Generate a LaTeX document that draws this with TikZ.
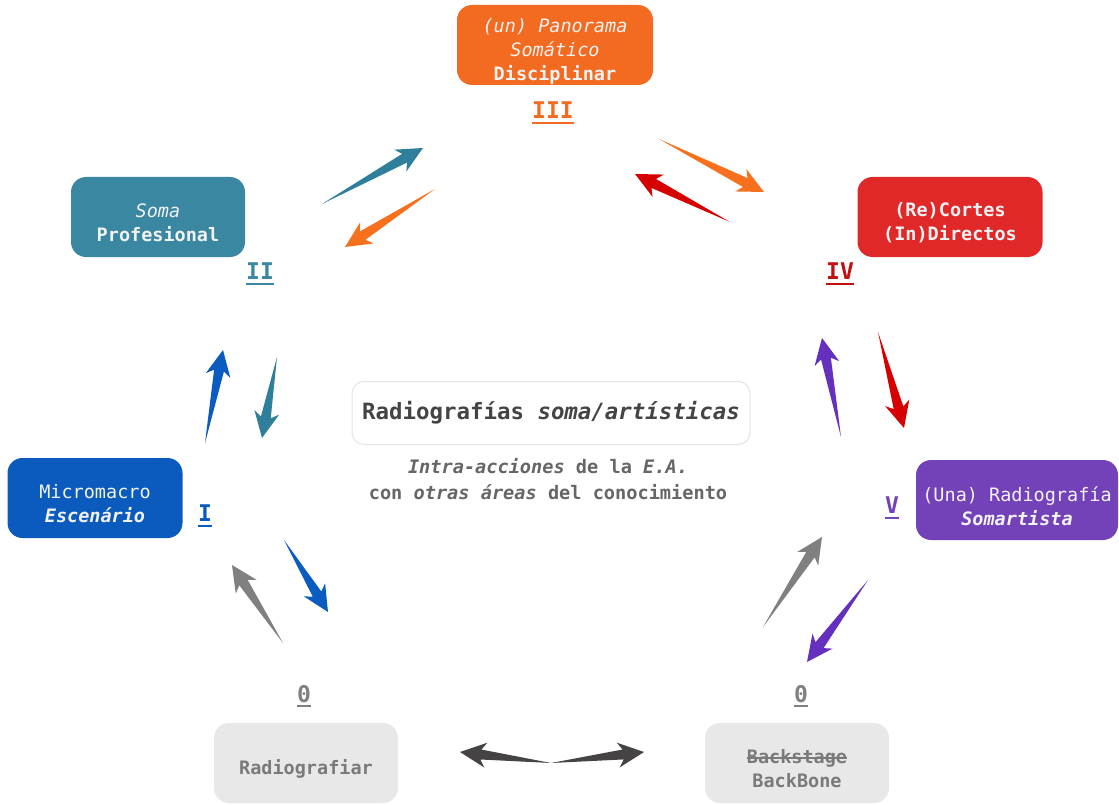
\documentclass[tikz,border=0pt]{standalone}
\usepackage{fontspec}
\setmonofont{DejaVu Sans Mono}
\usetikzlibrary{calc}
\definecolor{cOrange}{HTML}{F26B21}
\definecolor{cOrangeA}{HTML}{F6701D}
\definecolor{cTeal}{HTML}{3A87A1}
\definecolor{cTealA}{HTML}{2F7F9B}
\definecolor{cRed}{HTML}{E02828}
\definecolor{cRedA}{HTML}{D60000}
\definecolor{cRedL}{HTML}{C01010}
\definecolor{cBlue}{HTML}{0B5BBE}
\definecolor{cBlueA}{HTML}{0A5CC0}
\definecolor{cPurple}{HTML}{7442B8}
\definecolor{cPurpleA}{HTML}{6530BE}
\definecolor{cGrayBox}{HTML}{E8E8E8}
\definecolor{cGrayTxt}{HTML}{7A7A7A}
\definecolor{cGrayA}{HTML}{808080}
\definecolor{cDark}{HTML}{454343}
\definecolor{cTitle}{HTML}{444444}
\definecolor{cSub}{HTML}{666666}
\definecolor{cBoxTxt}{HTML}{F2F2F2}
\definecolor{cBorder}{HTML}{E4E4E4}
\newsavebox\mytxtbox
\newcommand\myul[1]{\sbox\mytxtbox{#1}\rlap{\usebox\mytxtbox}\rule[-5pt]{\wd\mytxtbox}{2pt}}
\newcommand\mystrike[1]{\sbox\mytxtbox{#1}\rlap{\usebox\mytxtbox}\rule[0.28em]{\wd\mytxtbox}{1.6pt}}
\newcommand\wedgearrow[3]{%
  \coordinate (wA) at (#2);
  \coordinate (wB) at (#3);
  \coordinate (wC) at ($(wB)!21pt!(wA)$);
  \coordinate (wD) at ($(wB)!26pt!(wA)$);
  \fill[#1] (wA) -- ($(wC)!5pt!90:(wB)$) -- ($(wD)!12.5pt!90:(wB)$) -- (wB)
    -- ($(wD)!12.5pt!-90:(wB)$) -- ($(wC)!5pt!-90:(wB)$) -- cycle;
}
\begin{document}
\begin{tikzpicture}[x=1pt,y=-1pt,
  box/.style={rounded corners=15pt, inner sep=0pt, minimum height=80pt},
  boxtext/.style={inner sep=0pt, align=center, text=cBoxTxt,
    font=\ttfamily\fontsize{18.5}{24}\selectfont},
  graybox/.style={box, fill=cGrayBox, minimum width=184pt},
  graytext/.style={boxtext, text=cGrayTxt},
  roman/.style={font=\ttfamily\bfseries\fontsize{23}{28}\selectfont, inner sep=0pt}
]
\useasboundingbox (0,0) rectangle (1119,805);
\fill[white] (0,0) rectangle (1119,805);

% boxes
\node[box, fill=cOrange, minimum width=196pt] (b3) at (555,45) {};
\node[boxtext] (t3) at (555,51)
  {\textit{(un) Panorama}\\\textit{Somático}\\\textbf{Disciplinar}};
\node[box, fill=cTeal, minimum width=174pt] (b2) at (158,217) {};
\node[boxtext] (t2) at (158,223) {\textit{Soma}\\\textbf{Profesional}};
\node[box, fill=cRed, minimum width=185pt] (b4) at (950,217) {};
\node[boxtext] (t4) at (950,223) {\textbf{(Re)Cortes}\\\textbf{(In)Directos}};
\node[box, fill=cBlue, minimum width=175pt] (b1) at (95,498) {};
\node[boxtext] (t1) at (95,504) {Micromacro\\\textbf{\textit{Escenário}}};
\node[box, fill=cPurple, minimum width=202pt] (b5) at (1017,500) {};
\node[boxtext] (t5) at (1017,506) {(Una) Radiografía\\\textbf{\textit{Somartista}}};
\node[graybox] (b0l) at (306,763) {};
\node[graytext] (t0l) at (306,769) {\textbf{Radiografiar}};
\node[graybox] (b0r) at (797,763) {};
\node[graytext] (t0r) at (797,769) {\textbf{\mystrike{Backstage}}\\\textbf{BackBone}};

% roman labels
\node[roman, text=cOrange] (l3) at (553,113) {\myul{III}};
\node[roman, text=cTeal] (l2) at (260,274) {\myul{II}};
\node[roman, text=cRedL] (l4) at (840,274) {\myul{IV}};
\node[roman, text=cBlue] (l1) at (205,516) {\myul{I}};
\node[roman, text=cPurple] (l5) at (892,508) {\myul{V}};
\node[roman, text=cGrayA] (l0l) at (304,696) {\myul{0}};
\node[roman, text=cGrayA] (l0r) at (801,696) {\myul{0}};

% center title
\node[draw=cBorder, line width=1pt, fill=white, rounded corners=12pt,
  minimum width=398pt, minimum height=63pt, inner sep=0pt, text=cTitle,
  font=\ttfamily\bfseries\fontsize{22.4}{26}\selectfont] (title) at (551,413)
  {Radiografías \textit{soma/artísticas}};
\node[align=center, text=cSub, inner sep=0pt,
  font=\ttfamily\bfseries\fontsize{18.6}{26}\selectfont] (sub) at (548,479)
  {\textit{Intra-acciones} de la \textit{E.A.}\\con \textit{otras áreas} del conocimiento};

% arrow end points
\coordinate (a1t) at (322,204);  \coordinate (a1h) at (423,148);
\coordinate (a2t) at (435,189);  \coordinate (a2h) at (345,247);
\coordinate (a3t) at (659,139);  \coordinate (a3h) at (764,192);
\coordinate (a4t) at (730,222);  \coordinate (a4h) at (635,174);
\coordinate (a5t) at (878,332);  \coordinate (a5h) at (904,428);
\coordinate (a6t) at (841,437);  \coordinate (a6h) at (822,338);
\coordinate (a7t) at (868,580);  \coordinate (a7h) at (807,662);
\coordinate (a8t) at (763,627);  \coordinate (a8h) at (822,537);
\coordinate (a9t) at (551,763);  \coordinate (a9l) at (460,752); \coordinate (a9r) at (644,752);
\coordinate (a10t) at (283,643); \coordinate (a10h) at (232,565);
\coordinate (a11t) at (284,540); \coordinate (a11h) at (328,612);
\coordinate (a12t) at (205,443); \coordinate (a12h) at (223,350);
\coordinate (a13t) at (277,357); \coordinate (a13h) at (262,438);

\wedgearrow{cTealA}{a1t}{a1h}
\wedgearrow{cOrangeA}{a2t}{a2h}
\wedgearrow{cOrangeA}{a3t}{a3h}
\wedgearrow{cRedA}{a4t}{a4h}
\wedgearrow{cRedA}{a5t}{a5h}
\wedgearrow{cPurpleA}{a6t}{a6h}
\wedgearrow{cPurpleA}{a7t}{a7h}
\wedgearrow{cGrayA}{a8t}{a8h}
\wedgearrow{cDark}{a9t}{a9l}
\wedgearrow{cDark}{a9t}{a9r}
\wedgearrow{cGrayA}{a10t}{a10h}
\wedgearrow{cBlueA}{a11t}{a11h}
\wedgearrow{cBlueA}{a12t}{a12h}
\wedgearrow{cTealA}{a13t}{a13h}
\end{tikzpicture}
\end{document}
